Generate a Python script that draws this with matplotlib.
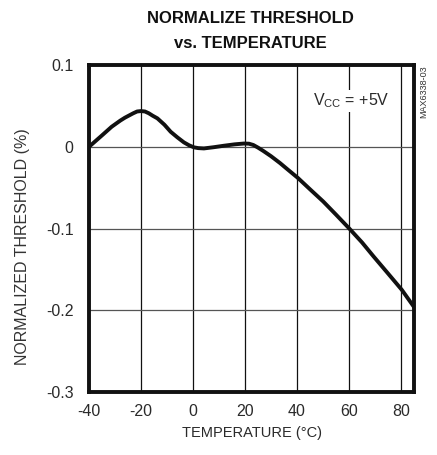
import matplotlib
matplotlib.use("Agg")
import matplotlib.pyplot as plt

plt.rcParams['font.family'] = ['Liberation Sans', 'DejaVu Sans']
plt.rcParams['mathtext.fontset'] = 'custom'
plt.rcParams['mathtext.rm'] = 'Liberation Sans'

temperature = [-40, -37.5, -35, -31.3, -28, -26.2, -23, -21.5, -20, -18.5, -17, -15.5, -13.7, -11,
               -8.6, -6, -3.5, -1.5, 0.4, 2, 4.2, 8, 11.9, 16, 19.6, 21.5, 23.2, 25, 27, 30, 33.5,
               36.5, 40.3, 45, 50.1, 55, 60.1, 65, 69.4, 75, 80.3, 85]
threshold = [0.0, 0.007, 0.014, 0.0245, 0.032, 0.0356, 0.041, 0.0432, 0.0437, 0.0432, 0.041, 0.038,
             0.0348, 0.027, 0.0184, 0.0115, 0.0054, 0.0018, -0.0007, -0.0016, -0.002, -0.0005,
             0.0013, 0.003, 0.004, 0.0038, 0.0022, -0.001, -0.005, -0.0115, -0.020, -0.028,
             -0.038, -0.052, -0.067, -0.083, -0.100, -0.117, -0.134, -0.155, -0.175, -0.196]

x_ticks = [-40, -20, 0, 20, 40, 60, 80]
y_ticks = [-0.3, -0.2, -0.1, 0, 0.1]
y_tick_labels = ['-0.3', '-0.2', '-0.1', '0', '0.1']

fig = plt.figure(figsize=(4.37, 4.55), dpi=100)
ax = fig.add_axes([0.2037, 0.1385, 0.7437, 0.7185])

ax.plot(temperature, threshold, color='#111111', lw=2.8, solid_capstyle='round',
        solid_joinstyle='round', zorder=3)
ax.set_xlim(-40, 85)
ax.set_ylim(-0.3, 0.1)
ax.set_xticks(x_ticks)
ax.set_xticklabels([str(t) for t in x_ticks])
ax.set_yticks(y_ticks)
ax.set_yticklabels(y_tick_labels)
ax.tick_params(length=0, labelsize=11.5, colors='#2a2a2a')
ax.tick_params(axis='x', pad=8.5)
ax.tick_params(axis='y', pad=11)
ax.grid(True, axis='x', color='#111111', lw=0.9)
ax.grid(True, axis='y', color='#555555', lw=0.9)
for s in ax.spines.values():
    s.set_linewidth(2.8)
    s.set_color('#111111')

ax.set_xlabel('TEMPERATURE (°C)', fontsize=10.5, labelpad=5, color='#2a2a2a')
ax.set_ylabel('NORMALIZED THRESHOLD (%)', fontsize=11.5, color='#333333')
ax.yaxis.set_label_coords(-0.1815, 0.446)

fig.text(0.574, 1 - 23 / 455, 'NORMALIZE THRESHOLD', ha='center', va='baseline',
         fontsize=12, fontweight='bold', color='#111111')
fig.text(0.574, 1 - 48 / 455, 'vs. TEMPERATURE', ha='center', va='baseline',
         fontsize=12, fontweight='bold', color='#111111')
ax.text(0.806, 0.89, r'V$_{\mathrm{CC}}$ = +5V', transform=ax.transAxes, ha='center', va='center',
        fontsize=11.5, color='#2a2a2a', zorder=4,
        bbox=dict(facecolor='white', edgecolor='none', pad=1.5))
fig.text(0.97, 0.857, 'MAX6338-03', rotation=90, ha='center', va='top', fontsize=6.5, color='#333333')

fig.savefig('out.png', dpi=100)
